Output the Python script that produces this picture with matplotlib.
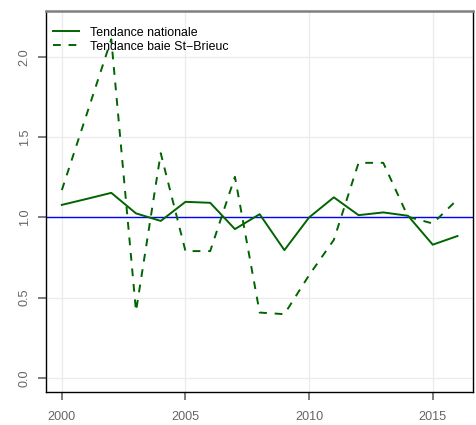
import matplotlib
matplotlib.use("Agg")
import matplotlib.pyplot as plt

plt.rcParams['font.family'] = ['Liberation Sans', 'DejaVu Sans']

years = list(range(2000, 2017))
# tendance nationale (trait plein)
nationale = [1.078, 1.115, 1.153, 1.025, 0.978, 1.097, 1.091, 0.927, 1.020, 0.796,
             1.000, 1.125, 1.014, 1.031, 1.010, 0.830, 0.884]
# tendance baie St-Brieuc (tirets)
st_brieuc = [1.17, 1.64, 2.11, 0.415, 1.40, 0.79, 0.79, 1.253, 0.407, 0.397,
             0.64, 0.86, 1.34, 1.34, 1.004, 0.962, 1.112]
x_ticks = [2000, 2005, 2010, 2015]
y_ticks = [0.0, 0.5, 1.0, 1.5, 2.0]
y_labels = ["0.0", "0.5", "1.0", "1.5", "2.0"]

fig = plt.figure(figsize=(4.77, 4.25), dpi=100)
ax = fig.add_axes([46/477, 33/425, 427.3/477, 381.3/425])

green = "#006400"
ax.grid(True, color="#EBEBEB", linewidth=0.9, zorder=0)
ax.plot(years, nationale, color=green, linewidth=1.4, label="Tendance nationale", zorder=3)
ax.plot(years, st_brieuc, color=green, linewidth=1.4, linestyle=(0, (4, 4)),
        label="Tendance baie St\u2212Brieuc", zorder=3)
ax.axhline(1.0, color="#0000FF", linewidth=1.0, zorder=2)

ax.set_xlim(2000 - 0.64, 2016 + 0.64)
ax.set_ylim(-0.088, 2.288)
ax.set_xticks(x_ticks)
ax.set_yticks(y_ticks)
ax.set_yticklabels(y_labels, rotation=90, va="center")
ax.tick_params(axis="both", colors="#666666", labelsize=9.1, length=6, width=1.2, pad=5)
ax.tick_params(axis="x", pad=8)

for side in ["left", "bottom", "right"]:
    ax.spines[side].set_color("black")
    ax.spines[side].set_linewidth(1.0)
ax.spines["top"].set_color("#808080")
ax.spines["top"].set_linewidth(1.8)

ax.legend(loc="upper left", bbox_to_anchor=(0.016, 0.958), frameon=False,
          borderpad=0, borderaxespad=0, handlelength=2.1, handletextpad=0.9,
          labelspacing=0.15, fontsize=8.9)

fig.savefig("out.png", dpi=100)
